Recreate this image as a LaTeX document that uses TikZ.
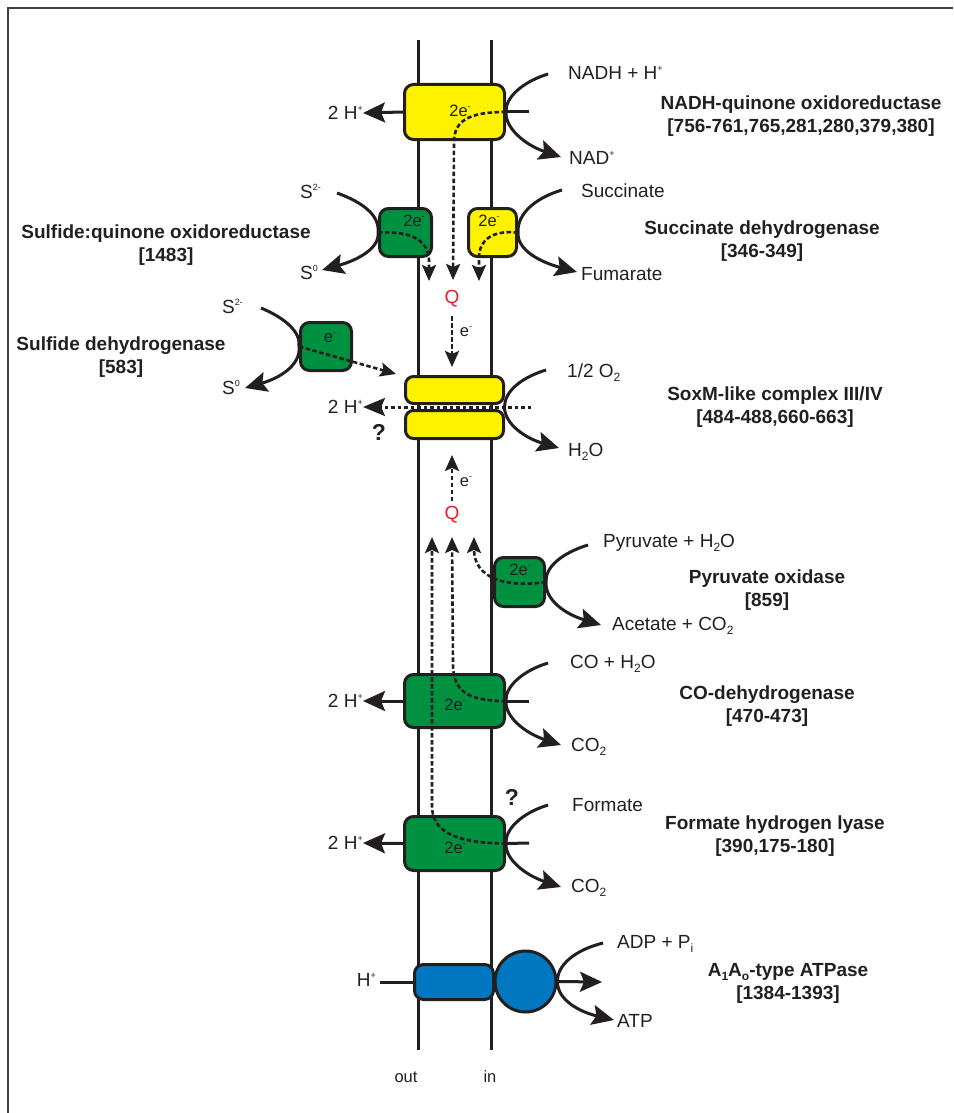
\documentclass[tikz,border=0pt]{standalone}
\usepackage{fontspec}
\setmainfont{Liberation Sans}
\usetikzlibrary{arrows.meta}
\definecolor{ink}{HTML}{231F20}
\definecolor{cyel}{HTML}{FFF200}
\definecolor{cgrn}{HTML}{009140}
\definecolor{cblue}{HTML}{0077C0}
\definecolor{qred}{HTML}{ED1C24}
\newcommand{\upx}[1]{\raisebox{0.8ex}{\fontsize{9}{9}\selectfont #1}}
\newcommand{\dnx}[1]{\raisebox{-0.4ex}{\fontsize{12}{12}\selectfont #1}}
\tikzset{
  frame/.style={line width=1.6pt, draw=black!75},
  mem/.style={line width=3pt, draw=ink},
  cbox/.style={draw=ink, line width=3pt, rounded corners=9pt, inner sep=0pt},
  yel/.style={cbox, fill=cyel},
  grn/.style={cbox, fill=cgrn},
  blu/.style={cbox, fill=cblue},
  lbl/.style={font=\fontsize{19}{22}\selectfont, text=ink, inner sep=0pt},
  blbl/.style={font=\bfseries\fontsize{19}{23}\selectfont, text=ink, align=center, inner sep=0pt},
  sml/.style={font=\fontsize{16.5}{18}\selectfont, text=ink, inner sep=0pt},
  qm/.style={font=\bfseries\fontsize{23}{26}\selectfont, text=ink, inner sep=0pt},
  qlbl/.style={font=\fontsize{19}{22}\selectfont, text=qred, inner sep=0pt},
  ln/.style={line width=3pt, draw=ink},
  arr/.style={line width=3pt, draw=ink, -{Stealth[length=22pt,width=20pt,inset=4pt]}},
  darr/.style={line width=2.6pt, draw=ink, dash pattern=on 4.5pt off 2.5pt, -{Stealth[length=16pt,width=14pt,inset=3pt]}},
  dotarr/.style={line width=3pt, draw=ink, dash pattern=on 3.5pt off 3pt, -{Stealth[length=22pt,width=18pt,inset=4pt]}},
}
\begin{document}
\begin{tikzpicture}[x=1pt,y=-1pt]
\useasboundingbox (0,0) rectangle (953,1113);
% frame
\coordinate (fA) at (8,1113);
\coordinate (fB) at (8,8);
\coordinate (fC) at (953,8);
\draw[frame] (fA) -- (fB) -- (fC);
% membrane
\coordinate (mLt) at (418,40);
\coordinate (mLb) at (418,1050);
\coordinate (mRt) at (491,40);
\coordinate (mRb) at (491,1050);
\draw[mem] (mLt) -- (mLb);
\draw[mem] (mRt) -- (mRb);

% ===== NADH-quinone oxidoreductase
\node[yel, minimum width=100pt, minimum height=55pt] (nadh) at (454.5,112) {};
\node[lbl, anchor=east] (hA) at (363,113) {2 H\upx{+}};
\coordinate (nadhStub) at (529,112);
\coordinate (nadhIn) at (548,74);
\coordinate (nadhOut) at (561,157);
\node[lbl, anchor=west] (nadhS) at (568,73) {NADH + H\upx{+}};
\node[lbl, anchor=west] (nadhP) at (569,158) {NAD\upx{+}};
\draw[arr] (nadh.west) -- (hA.east);
\draw[ln] (nadh.east) -- (nadhStub);
\draw[arr] (nadhIn) .. controls (522,82) and (505,98) .. (nadh.east) .. controls (505,128) and (525,145) .. (nadhOut);
\node[sml] (e1) at (460,111) {2e\upx{-}};
\coordinate (qA) at (453,280);
\draw[darr] (nadh.east) .. controls (470,112) and (454,120) .. (454,142) -- (qA);
\node[blbl] (tA) at (801,116) {NADH-quinone oxidoreductase\\{}[756-761,765,281,280,379,380]};

% ===== Sulfide:quinone oxidoreductase
\node[grn, minimum width=52pt, minimum height=48pt] (sqr) at (405.5,232.5) {};
\node[sml] (e2) at (414,221) {2e\upx{-}};
\coordinate (sqrIn) at (337,193);
\coordinate (sqrOut) at (322,270);
\node[lbl, anchor=east] (sqrS) at (321,191) {S\upx{2-}};
\node[lbl, anchor=east] (sqrP) at (318,272) {S\upx{0}};
\draw[arr] (sqrIn) .. controls (362,202) and (380,215) .. (sqr.west) .. controls (380,248) and (358,260) .. (sqrOut);
\coordinate (qL) at (429,281);
\draw[darr] (sqr.west) .. controls (408,231) and (428,238) .. (429,260) -- (qL);
\node[blbl] (tL1) at (166,245) {Sulfide:quinone oxidoreductase\\{}[1483]};

% ===== Succinate dehydrogenase
\node[yel, minimum width=48pt, minimum height=48pt] (sdh) at (492.5,232.5) {};
\node[sml] (e3) at (489,221) {2e\upx{-}};
\coordinate (sdhIn) at (562,190);
\coordinate (sdhOut) at (577,272);
\node[lbl, anchor=west] (sdhS) at (581,191) {Succinate};
\node[lbl, anchor=west] (sdhP) at (581,274) {Fumarate};
\draw[arr] (sdhIn) .. controls (535,198) and (517,214) .. (sdh.east) .. controls (517,250) and (540,262) .. (sdhOut);
\coordinate (qR) at (479,281);
\draw[darr] (sdh.east) .. controls (492,230) and (479,240) .. (479,258) -- (qR);
\node[blbl] (tR1) at (762,241) {Succinate dehydrogenase\\{}[346-349]};

% ===== Q (upper)
\node[qlbl] (Q1) at (452,299) {Q};
\coordinate (sxA) at (452,367);
\coordinate (q1s) at (452,316);
\draw[darr] (q1s) -- (sxA);
\node[sml] (e4) at (466,332) {e\upx{-}};

% ===== Sulfide dehydrogenase
\node[grn, minimum width=51pt, minimum height=48pt] (sfd) at (326,346.5) {};
\node[sml] (e5) at (330,338) {e\upx{-}};
\coordinate (sfdIn) at (261,308);
\coordinate (sfdOut) at (245,388);
\node[lbl, anchor=east] (sfdS) at (243,306) {S\upx{2-}};
\node[lbl, anchor=east] (sfdP) at (240,387) {S\upx{0}};
\draw[arr] (sfdIn) .. controls (285,318) and (301,332) .. (sfd.west) .. controls (301,365) and (280,378) .. (sfdOut);
\coordinate (sxB) at (396,374);
\draw[darr] (sfd.west) -- (sxB);
\node[blbl] (tL2) at (121,357) {Sulfide dehydrogenase\\{}[583]};

% ===== SoxM-like complex III/IV
\node[yel, minimum width=98pt, minimum height=27pt, rounded corners=8pt] (soxa) at (454.5,390) {};
\node[yel, minimum width=98pt, minimum height=28pt, rounded corners=8pt] (soxb) at (454.5,424.5) {};
\node[lbl, anchor=east] (hB) at (363,407) {2 H\upx{+}};
\coordinate (soxR) at (531,407);
\coordinate (soxE) at (504.5,407);
\draw[dotarr] (soxR) -- (hB.east);
\node[qm] (qmA) at (379,432) {?};
\coordinate (soxIn) at (546,370);
\coordinate (soxOut) at (559,448);
\node[lbl, anchor=west] (soxS) at (567,373) {1/2 O\dnx{2}};
\node[lbl, anchor=west] (soxP) at (568,452) {H\dnx{2}O};
\draw[arr] (soxIn) .. controls (520,378) and (504.5,392) .. (soxE) .. controls (504.5,424) and (525,438) .. (soxOut);
\node[blbl] (tR2) at (775,407) {SoxM-like complex III/IV\\{}[484-488,660-663]};

% ===== Q (lower)
\node[qlbl] (Q2) at (452,515) {Q};
\coordinate (sxC) at (452,455);
\coordinate (q2n) at (452,501);
\draw[darr] (q2n) -- (sxC);
\node[sml] (e6) at (466,482) {e\upx{-}};

% ===== Pyruvate oxidase
\node[grn, minimum width=50pt, minimum height=49pt] (pyr) at (519.5,582) {};
\node[sml] (e7) at (520,570) {2e\upx{-}};
\coordinate (pyrIn) at (588,545);
\coordinate (pyrOut) at (601,625);
\node[lbl, anchor=west] (pyrS) at (603,543) {Pyruvate + H\dnx{2}O};
\node[lbl, anchor=west] (pyrP) at (612,626) {Acetate + CO\dnx{2}};
\draw[arr] (pyrIn) .. controls (562,553) and (545,567) .. (pyr.east) .. controls (545,600) and (565,614) .. (pyrOut);
\coordinate (qC) at (474,537);
\draw[darr] (pyr.east) .. controls (505,588) and (474,578) .. (qC);
\node[blbl] (tR3) at (767,590) {Pyruvate oxidase\\{}[859]};

% ===== CO-dehydrogenase
\node[grn, minimum width=100pt, minimum height=53pt] (coh) at (454.5,701) {};
\node[sml] (e8) at (455,705) {2e\upx{-}};
\node[lbl, anchor=east] (hC) at (363,701) {2 H\upx{+}};
\coordinate (cohStub) at (529,701);
\coordinate (cohIn) at (548,663);
\coordinate (cohOut) at (561,745);
\node[lbl, anchor=west] (cohS) at (570,664) {CO + H\dnx{2}O};
\node[lbl, anchor=west] (cohP) at (571,747) {CO\dnx{2}};
\draw[arr] (coh.west) -- (hC.east);
\draw[ln] (coh.east) -- (cohStub);
\draw[arr] (cohIn) .. controls (522,671) and (505,687) .. (coh.east) .. controls (505,717) and (525,733) .. (cohOut);
\node[blbl] (tR4) at (767,706) {CO-dehydrogenase\\{}[470-473]};

% ===== Formate hydrogen lyase
\node[grn, minimum width=100pt, minimum height=54pt] (fhl) at (454.5,843.5) {};
\node[sml] (e9) at (455,848) {2e\upx{-}};
\node[lbl, anchor=east] (hD) at (363,843) {2 H\upx{+}};
\coordinate (fhlStub) at (529,843);
\coordinate (fhlIn) at (548,805);
\coordinate (fhlOut) at (561,887);
\node[qm] (qmB) at (512,797) {?};
\node[lbl, anchor=west] (fhlS) at (572,805) {Formate};
\node[lbl, anchor=west] (fhlP) at (571,888) {CO\dnx{2}};
\draw[arr] (fhl.west) -- (hD.east);
\draw[ln] (fhl.east) -- (fhlStub);
\draw[arr] (fhlIn) .. controls (522,813) and (505,829) .. (fhl.east) .. controls (505,859) and (525,875) .. (fhlOut);
\node[blbl] (tR5) at (775,836) {Formate hydrogen lyase\\{}[390,175-180]};

% ===== electron arrows from CO-dh and FHL to Q
\coordinate (qD) at (452,537);
\coordinate (qE) at (432,537);
\draw[darr] (coh.east) .. controls (466,701) and (453,690) .. (453,664) -- (qD);
\draw[darr] (fhl.east) .. controls (452,843) and (432,830) .. (432,806) -- (qE);

% ===== A1Ao-type ATPase
\node[draw=ink, line width=3pt, fill=cblue, circle, minimum size=61pt, inner sep=0pt] (atpF) at (525.5,981.5) {};
\node[blu, minimum width=79pt, minimum height=35pt] (atpO) at (454,982) {};
\node[lbl, anchor=east] (hE) at (376,980) {H\upx{+}};
\coordinate (hEe) at (380,982);
\draw[ln] (hEe) -- (atpO.west);
\coordinate (atpR) at (602,982);
\draw[arr] (atpF.east) -- (atpR);
\coordinate (atpIn) at (603,943);
\coordinate (atpOut) at (614,1020);
\node[lbl, anchor=west] (atpS) at (617,944) {ADP + P\dnx{i}};
\node[lbl, anchor=west] (atpP) at (617,1021) {ATP};
\draw[arr] (atpIn) .. controls (575,950) and (557,965) .. (atpF.east) .. controls (557,1000) and (580,1012) .. (atpOut);
\node[blbl] (tR6) at (788,983) {A\dnx{1}A\dnx{o}-type ATPase\\{}[1384-1393]};

% ===== sides
\node[sml] (out) at (406,1077) {out};
\node[sml] (in) at (490,1077) {in};
\end{tikzpicture}
\end{document}
